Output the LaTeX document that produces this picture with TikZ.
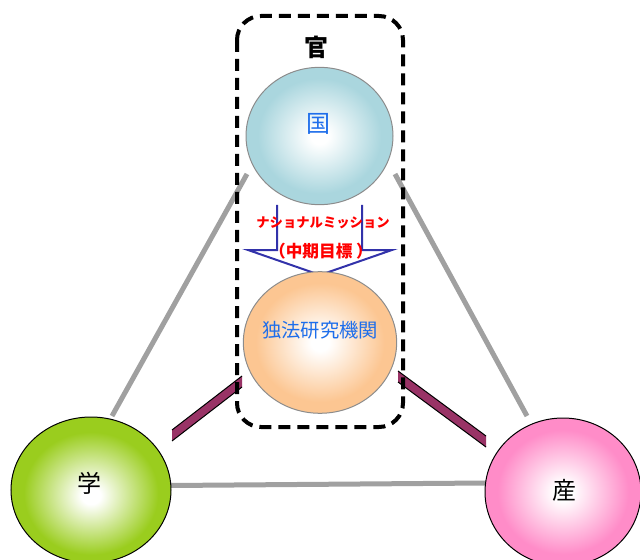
\documentclass[tikz,border=0pt]{standalone}
\usepackage{fontspec}
\setmainfont{Noto Sans CJK JP}
\usetikzlibrary{shapes.geometric}
\definecolor{kokuC}{RGB}{170,214,222}
\definecolor{dokuC}{RGB}{252,198,146}
\definecolor{gakuC}{RGB}{154,205,30}
\definecolor{sanC}{RGB}{255,140,200}
\definecolor{barC}{RGB}{153,51,102}
\definecolor{lineG}{RGB}{160,160,160}
\definecolor{txtB}{RGB}{30,110,235}
\definecolor{arrB}{RGB}{50,50,170}
\pgfdeclareradialshading{kokushade}{\pgfpoint{0bp}{0bp}}{color(0bp)=(white); color(3bp)=(white); color(21bp)=(kokuC); color(25bp)=(kokuC); color(50bp)=(kokuC)}
\pgfdeclareradialshading{dokushade}{\pgfpoint{0bp}{0bp}}{color(0bp)=(white); color(3bp)=(white); color(21bp)=(dokuC); color(25bp)=(dokuC); color(50bp)=(dokuC)}
\pgfdeclareradialshading{gakushade}{\pgfpoint{0bp}{-2bp}}{color(0bp)=(white); color(3bp)=(white); color(21bp)=(gakuC); color(25bp)=(gakuC); color(50bp)=(gakuC)}
\pgfdeclareradialshading{sanshade}{\pgfpoint{0bp}{0bp}}{color(0bp)=(white); color(3bp)=(white); color(21bp)=(sanC); color(25bp)=(sanC); color(50bp)=(sanC)}
\begin{document}
\begin{tikzpicture}[x=0.75pt,y=-0.75pt,
  orb/.style={ellipse, inner sep=0pt, line width=0.75pt, shade},
  grayline/.style={draw=lineG, line width=3.75pt},
  bar/.style={fill=barC},
  baredge/.style={draw=black, line width=0.75pt},
  txt/.style={inner sep=0pt, font=\fontsize{18pt}{20pt}\selectfont},
  redtxt/.style={inner sep=0pt, text=red, font=\bfseries\fontsize{10pt}{12pt}\selectfont},
  dashbox/.style={draw=black, line width=3pt, dash pattern=on 9pt off 5.25pt, rounded corners=18pt}
]
\useasboundingbox (0,0) rectangle (640,560);

% gray connectors
\coordinate (l1a) at (112,416);
\coordinate (l1b) at (247,174);
\coordinate (l2a) at (395,174);
\coordinate (l2b) at (527,416);
\coordinate (l3a) at (171,485.5);
\coordinate (l3b) at (486,483);
\draw[grayline] (l1a) -- (l1b);
\draw[grayline] (l2a) -- (l2b);
\draw[grayline] (l3a) -- (l3b);

% maroon bars
\coordinate (b1a) at (172,430);
\coordinate (b1b) at (242,376);
\coordinate (b1c) at (242,387);
\coordinate (b1d) at (172,441);
\fill[bar] (b1a) -- (b1b) -- (b1c) -- (b1d) -- cycle;
\draw[baredge] (b1a) -- (b1b);
\draw[baredge] (b1d) -- (b1c);
\coordinate (b2a) at (398,371);
\coordinate (b2b) at (486,436);
\coordinate (b2c) at (486,447);
\coordinate (b2d) at (398,382);
\fill[bar] (b2a) -- (b2b) -- (b2c) -- (b2d) -- cycle;
\draw[baredge] (b2a) -- (b2b);
\draw[baredge] (b2d) -- (b2c);

% down arrow
\coordinate (a1) at (277,205);
\coordinate (a2) at (277,250);
\coordinate (a3) at (248,250);
\coordinate (a4) at (320,275);
\coordinate (a5) at (392,250);
\coordinate (a6) at (362,250);
\coordinate (a7) at (362,205);
\draw[draw=arrB, line width=1.5pt, line join=miter] (a1) -- (a2) -- (a3) -- (a4) -- (a5) -- (a6) -- (a7);

% circles
\node[orb, shading=kokushade, draw={rgb,255:red,140;green,140;blue,140}, minimum width=110.25pt, minimum height=103pt] (koku) at (319.5,136) {};
\node[orb, shading=dokushade, draw={rgb,255:red,140;green,140;blue,140}, minimum width=115pt, minimum height=106.2pt] (doku) at (320,342.5) {};
\node[orb, shading=gakushade, draw=black, minimum width=120pt, minimum height=109.5pt] (gaku) at (91,490) {};
\node[orb, shading=sanshade, draw=black, minimum width=117pt, minimum height=111pt] (san) at (563,492) {};

% dashed group
\coordinate (g1) at (237,16);
\coordinate (g2) at (403,427);
\draw[dashbox] (g1) rectangle (g2);

% texts
\node[txt, font=\bfseries\fontsize{18pt}{20pt}\selectfont] (kan) at (316,47) {官};
\node[txt, text=txtB, font=\fontsize{18pt}{20pt}\selectfont] (kokut) at (318,124) {国};
\node[txt, text=txtB, font=\fontsize{14.5pt}{16pt}\selectfont] (dokut) at (320,330) {独法研究機関};
\node[txt] (gakut) at (89.5,483.5) {学};
\node[txt] (sant) at (564,490) {産};
\node[redtxt] (nm) at (323,223) {ナショナルミッション};
\node[redtxt, font=\bfseries\fontsize{12.5pt}{14pt}\selectfont] (cm) at (321,251) {（中期目標 ）};
\end{tikzpicture}
\end{document}
